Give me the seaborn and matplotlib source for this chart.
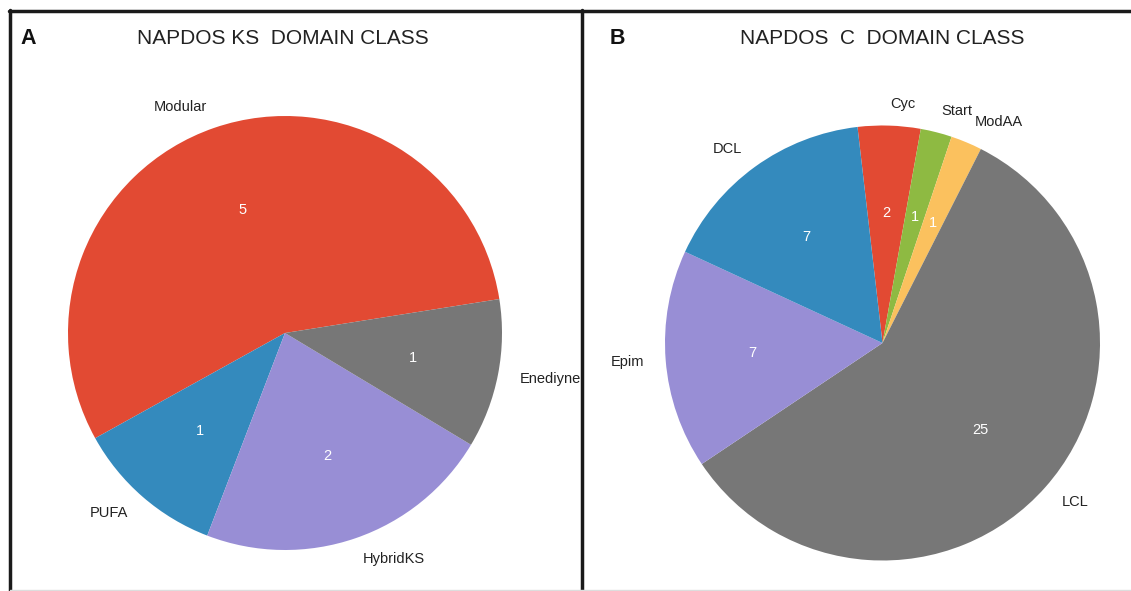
import seaborn as sns
import matplotlib.pyplot as plt
from matplotlib.lines import Line2D

# NaPDoS domain class counts
ks_labels = ["Modular", "PUFA", "HybridKS", "Enediyne"]
ks_counts = [5, 1, 2, 1]
c_labels = ["Cyc", "Start", "ModAA", "LCL", "Epim", "DCL"]
c_counts = [2, 1, 1, 25, 7, 7]

palette = {"red": "#E24A33", "blue": "#348ABD", "purple": "#988ED5",
           "grey": "#777777", "yellow": "#FBC15E", "green": "#8EBA42"}
ks_colors = [palette[k] for k in ["red", "blue", "purple", "grey"]]
c_colors = [palette[k] for k in ["red", "green", "yellow", "grey",
                                 "purple", "blue"]]

W, H = 1131, 591


def pie_axes(fig, cx, cy, r):
    """Axes whose unit circle sits at pixel centre (cx, cy), radius r"""
    ax = fig.add_axes([(cx - r) / W, (H - cy - r) / H, 2 * r / W, 2 * r / H])
    return ax


def draw_pie(ax, counts, labels, colors, start, counterclock):
    total = sum(counts)
    wedges, texts, autotexts = ax.pie(
        counts, labels=labels, colors=colors, startangle=start,
        counterclock=counterclock,
        autopct=lambda p: f"{round(p * total / 100):d}",
        labeldistance=1.1, pctdistance=0.6,
        wedgeprops={"linewidth": 0},
        textprops={"fontsize": 10.5, "color": "#222222"})
    for t in autotexts:
        t.set_color("white")
    ax.set_xlim(-1, 1)
    ax.set_ylim(-1, 1)
    ax.set_aspect("equal")
    ax.axis("off")


def main():
    sns.set_theme(style="white")
    plt.rcParams["font.family"] = ["Liberation Sans", "DejaVu Sans"]
    fig = plt.figure(figsize=(W / 100, H / 100), dpi=100)

    ax_a = pie_axes(fig, 285, 333, 217)
    draw_pie(ax_a, ks_counts, ks_labels, ks_colors, 9, True)
    ax_b = pie_axes(fig, 882.5, 343, 217.5)
    draw_pie(ax_b, c_counts, c_labels, c_colors, 96.6, False)

    # titles and panel letters
    fig.text(283 / W, 1 - 38 / H, "NAPDOS KS  DOMAIN CLASS", fontsize=15,
             ha="center", va="center", color="#222222")
    fig.text(882 / W, 1 - 38 / H, "NAPDOS  C  DOMAIN CLASS", fontsize=15,
             ha="center", va="center", color="#222222")
    fig.text(20 / W, 1 - 38 / H, "A", fontsize=15.5, fontweight="bold",
             ha="left", va="center", color="#111111")
    fig.text(610 / W, 1 - 38 / H, "B", fontsize=15.5, fontweight="bold",
             ha="left", va="center", color="#111111")

    # panel frames
    def px_line(x0, y0, x1, y1, lw=2.5, color="#1a1a1a"):
        fig.add_artist(Line2D([x0 / W, x1 / W], [1 - y0 / H, 1 - y1 / H],
                              transform=fig.transFigure, lw=lw, color=color))
    px_line(9, 11, W, 11)
    px_line(10, 10, 10, H)
    px_line(582, 10, 582, H)
    px_line(10, 589.5, W, 589.5, lw=1, color="#dddddd")

    fig.savefig("out.png", dpi=100)


if __name__ == "__main__":
    main()
